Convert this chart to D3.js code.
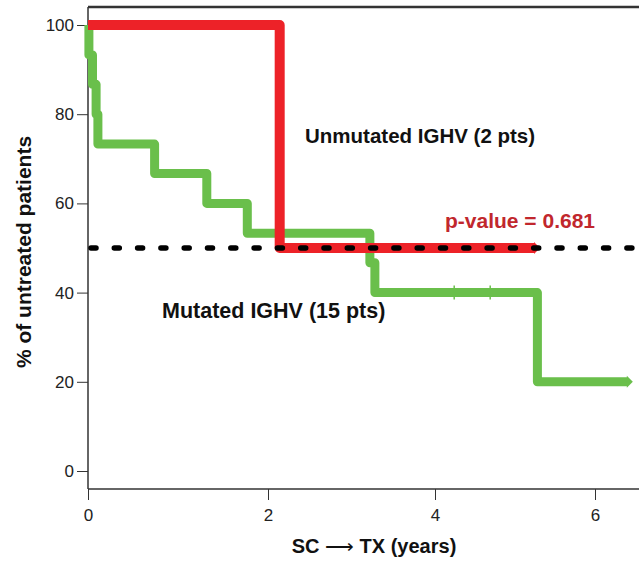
<!DOCTYPE html>
<html>
<head>
<meta charset="utf-8">
<script src="https://cdn.jsdelivr.net/npm/d3@7"></script>
<style>
  body { margin: 0; background: #fff; }
  svg { font-family: "Liberation Sans", Arial, sans-serif; }
  .tick text { font-size: 17px; fill: #222; }
  .tick line { stroke: #333; }
</style>
</head>
<body>
<div id="viz"></div>
<script>
// x ticks (years) and their label text
var xTicks = [0, 2, 4, 6];
var yTicks = [0, 20, 40, 60, 80, 100];

// mutated IGHV (15 pts), step after each time
var mutTime = [0, 0.01, 0.05, 0.09, 0.11, 0.74, 1.32, 1.77, 3.22, 3.28, 5.28, 6.41];
var mutSurv = [100, 93.3, 86.7, 80, 73.3, 66.7, 60, 53.3, 46.7, 40, 20, 20];
var mutCensor = [4.24, 4.69];

// unmutated IGHV (2 pts)
var unTime = [0, 2.14, 5.25];
var unSurv = [100, 50, 50];

var median = 50;

var w = 639, h = 563;

var svg = d3.select('#viz')
  .append('svg')
  .attr('width', w)
  .attr('height', h);

// the original axis is not evenly spaced, so piecewise
var x = d3.scaleLinear()
  .domain([0, 2, 4, 6, 7])
  .range([88, 268, 435, 595, 675]);

var y = d3.scaleLinear()
  .domain([0, 100])
  .range([471, 25]);

var axisY = 489, topY = 7;

// frame: left, top, bottom
svg.append('line')
  .attr('x1', x(0)).attr('x2', x(0))
  .attr('y1', topY).attr('y2', axisY)
  .attr('stroke', '#333').attr('stroke-width', 1.5);
svg.append('line')
  .attr('x1', x(0)).attr('x2', w)
  .attr('y1', topY).attr('y2', topY)
  .attr('stroke', '#333').attr('stroke-width', 2.5);
svg.append('line')
  .attr('x1', x(0)).attr('x2', w)
  .attr('y1', axisY).attr('y2', axisY)
  .attr('stroke', '#333').attr('stroke-width', 1.5);

var gx = svg.append('g')
  .attr('transform', 'translate(0,' + axisY + ')')
  .call(d3.axisBottom(x).tickValues(xTicks).tickSize(11).tickPadding(9).tickFormat(d3.format('d')));
gx.select('.domain').remove();

var gy = svg.append('g')
  .attr('transform', 'translate(' + x(0) + ',0)')
  .call(d3.axisLeft(y).tickValues(yTicks).tickSize(11).tickPadding(3).tickFormat(d3.format('d')));
gy.select('.domain').remove();

var step = d3.line()
  .x(function(d) { return x(d[0]); })
  .y(function(d) { return y(d[1]); })
  .curve(d3.curveStepAfter);

var green = '#6abf4b', red = '#ed2228';

function arrowEnd(t, s, col) {
  var px = x(t), py = y(s);
  svg.append('path')
    .attr('d', 'M' + (px - 1) + ',' + (py - 6) + 'L' + (px + 5) + ',' + py + 'L' + (px - 1) + ',' + (py + 6) + 'Z')
    .attr('fill', col);
}

// mutated
svg.append('path')
  .datum(d3.zip(mutTime, mutSurv))
  .attr('d', step)
  .attr('fill', 'none')
  .attr('stroke', green)
  .attr('stroke-width', 9)
  .attr('stroke-linejoin', 'round');

svg.selectAll('.cens')
  .data(mutCensor)
  .enter()
  .append('line')
  .attr('class', 'cens')
  .attr('x1', function(d) { return x(d); })
  .attr('x2', function(d) { return x(d); })
  .attr('y1', y(40) - 7)
  .attr('y2', y(40) + 7)
  .attr('stroke', green)
  .attr('stroke-width', 1.5);
arrowEnd(mutTime[mutTime.length - 1], mutSurv[mutSurv.length - 1], green);

// unmutated
svg.append('path')
  .datum(d3.zip(unTime, unSurv))
  .attr('d', step)
  .attr('fill', 'none')
  .attr('stroke', red)
  .attr('stroke-width', 10)
  .attr('stroke-linejoin', 'round');
arrowEnd(unTime[unTime.length - 1], unSurv[unSurv.length - 1], red);

// 50% line
svg.append('line')
  .attr('x1', x(0) + 3).attr('x2', w)
  .attr('y1', y(median)).attr('y2', y(median))
  .attr('stroke', '#000')
  .attr('stroke-width', 5.5)
  .attr('stroke-linecap', 'round')
  .attr('stroke-dasharray', '5,18.3');

// labels
svg.append('text')
  .attr('x', 305).attr('y', 143)
  .attr('font-size', 20.5).attr('font-weight', 'bold').attr('fill', '#111')
  .text('Unmutated IGHV (2 pts)');

svg.append('text')
  .attr('x', 162).attr('y', 318)
  .attr('font-size', 21.5).attr('font-weight', 'bold').attr('fill', '#111')
  .text('Mutated IGHV (15 pts)');

svg.append('text')
  .attr('x', 445).attr('y', 228)
  .attr('font-size', 21).attr('font-weight', 'bold').attr('fill', '#c1272d')
  .text('p-value = 0.681');

var xt = svg.append('text')
  .attr('x', 374).attr('y', 553)
  .attr('text-anchor', 'middle')
  .attr('font-size', 20).attr('font-weight', 'bold').attr('fill', '#111');
xt.append('tspan').text('SC ');
xt.append('tspan').attr('font-weight', 'normal').text('\u27F6');
xt.append('tspan').text(' TX (years)');

svg.append('text')
  .attr('transform', 'translate(31,252) rotate(-90)')
  .attr('text-anchor', 'middle')
  .attr('font-size', 21).attr('font-weight', 'bold').attr('fill', '#111')
  .text('% of untreated patients');
</script>
</body>
</html>
